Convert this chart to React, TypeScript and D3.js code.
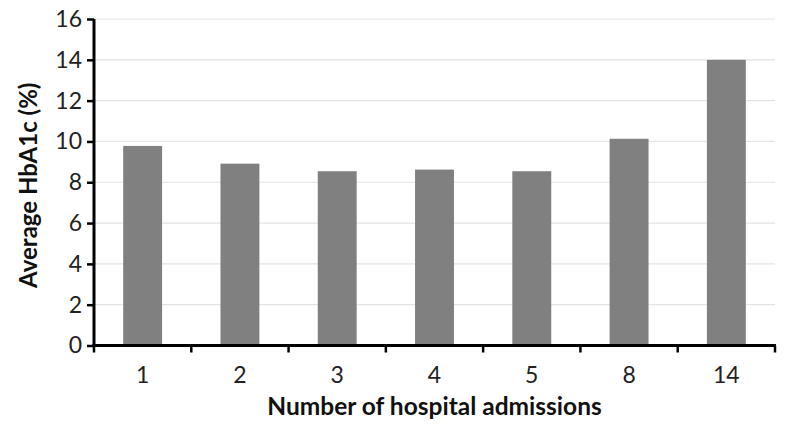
import React, { useEffect, useRef } from "react";
import * as d3 from "d3";

const admissions = ["1", "2", "3", "4", "5", "8", "14"];
const avgHbA1c = [9.78, 8.91, 8.54, 8.62, 8.54, 10.13, 14.0];
const yTicks = [0, 2, 4, 6, 8, 10, 12, 14, 16];

const W = 800;
const H = 433;
const FONT = "Lato, 'Open Sans', sans-serif";

const App = () => {
  const ref = useRef<SVGSVGElement | null>(null);

  useEffect(() => {
    const svg = d3.select(ref.current);
    svg.selectAll("*").remove();

    const left = 94;
    const right = 775;
    const top = 19;
    const bottom = 345.5;

    const x = d3.scaleBand<string>().domain(admissions).range([left, right]).paddingInner(0.6).paddingOuter(0.3);
    const y = d3.scaleLinear().domain([0, 16]).range([bottom, top]);

    // gridlines
    svg
      .append("g")
      .selectAll("line")
      .data(yTicks.filter((t) => t > 0))
      .enter()
      .append("line")
      .attr("x1", left)
      .attr("x2", right)
      .attr("y1", (d) => y(d))
      .attr("y2", (d) => y(d))
      .attr("stroke", "#e3e3e3")
      .attr("stroke-width", 1.2);

    // bars
    svg
      .append("g")
      .selectAll("rect")
      .data(avgHbA1c)
      .enter()
      .append("rect")
      .attr("x", (_, i) => x(admissions[i]) ?? 0)
      .attr("y", (d) => y(d))
      .attr("width", x.bandwidth())
      .attr("height", (d) => bottom - y(d))
      .attr("fill", "#808080");

    // y axis
    const yAxis = svg
      .append("g")
      .attr("transform", `translate(${left},0)`)
      .call(d3.axisLeft(y).tickValues(yTicks).tickSize(7).tickPadding(5).tickFormat(d3.format("d")));
    yAxis.select(".domain").attr("stroke", "#000").attr("stroke-width", 3).attr("d", `M0,${top}V${bottom}`);
    yAxis.selectAll(".tick line").attr("stroke", "#000").attr("stroke-width", 2.5);
    yAxis.selectAll("text").attr("font-family", FONT).attr("font-size", 23).attr("fill", "#222");

    // x axis with ticks at band boundaries
    const xAxis = svg.append("g").attr("transform", `translate(0,${bottom})`);
    xAxis
      .append("line")
      .attr("x1", left - 1.5)
      .attr("x2", right + 1)
      .attr("stroke", "#000")
      .attr("stroke-width", 3);
    const step = x.step();
    const bounds = admissions.map((c) => (x(c) ?? 0) - (step - x.bandwidth()) / 2).concat([right]);
    xAxis
      .selectAll("line.tk")
      .data(bounds)
      .enter()
      .append("line")
      .attr("class", "tk")
      .attr("x1", (d) => d)
      .attr("x2", (d) => d)
      .attr("y1", 0)
      .attr("y2", 7)
      .attr("stroke", "#000")
      .attr("stroke-width", 2.5);
    xAxis
      .selectAll("text")
      .data(admissions)
      .enter()
      .append("text")
      .attr("x", (d) => (x(d) ?? 0) + x.bandwidth() / 2)
      .attr("y", 37)
      .attr("text-anchor", "middle")
      .attr("font-family", FONT)
      .attr("font-size", 23)
      .attr("fill", "#222")
      .text((d) => d);

    // axis titles
    svg
      .append("text")
      .attr("x", (left + right) / 2)
      .attr("y", 415)
      .attr("text-anchor", "middle")
      .attr("font-family", FONT)
      .attr("font-weight", "bold")
      .attr("font-size", 24.5)
      .attr("fill", "#111")
      .text("Number of hospital admissions");
    svg
      .append("text")
      .attr("transform", "rotate(-90)")
      .attr("x", -(top + bottom) / 2 - 3)
      .attr("y", 37)
      .attr("text-anchor", "middle")
      .attr("font-family", FONT)
      .attr("font-weight", "bold")
      .attr("font-size", 24)
      .attr("fill", "#111")
      .text("Average HbA1c (%)");
  }, []);

  return (
    <svg
      ref={ref}
      width={W}
      height={H}
      style={{ position: "fixed", left: 0, top: 0, background: "#fff" }}
    />
  );
};

export default App;
